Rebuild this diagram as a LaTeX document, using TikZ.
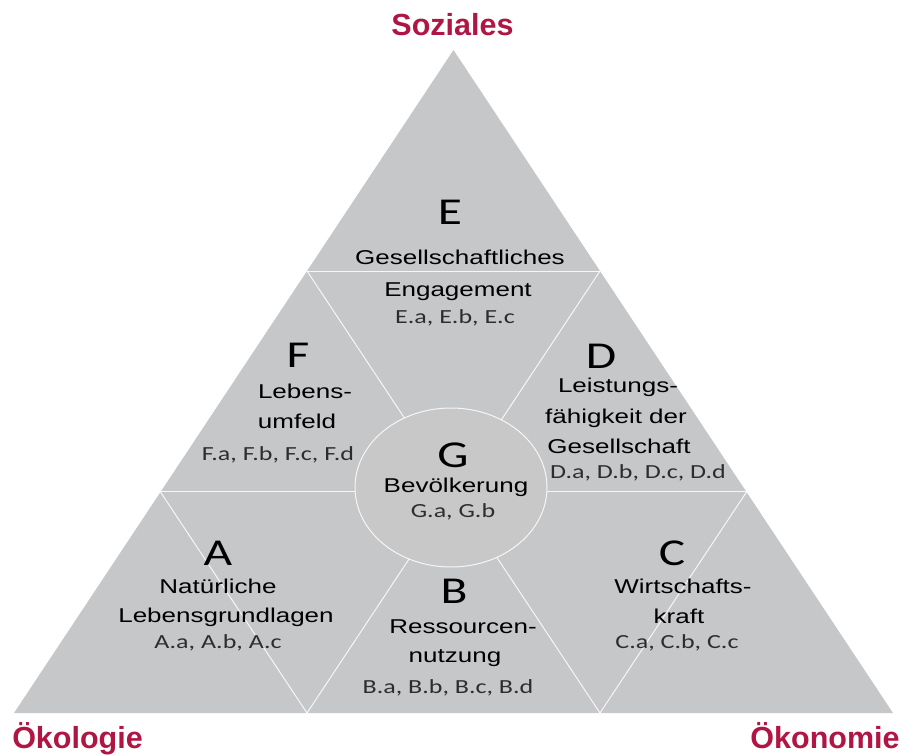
\documentclass[tikz,border=0pt]{standalone}
\usepackage{fontspec}
\usetikzlibrary{calc}
\newfontfamily\bodyf[FakeStretch=1.3]{Liberation Sans}
\newfontfamily\codef[FakeStretch=1.3]{Carlito}
\newfontfamily\headf{Liberation Sans}
\definecolor{headred}{RGB}{176,22,68}
\definecolor{trigray}{RGB}{198,199,201}
\definecolor{circgray}{RGB}{200,200,200}
\definecolor{codegray}{RGB}{45,45,45}
\tikzset{
  lbl/.style={anchor=base, inner sep=0pt, font=\bodyf\fontsize{20}{24}\selectfont, text=black},
  code/.style={anchor=base, inner sep=0pt, font=\codef\fontsize{20}{24}\selectfont, text=codegray},
  big/.style={anchor=base, inner sep=0pt, font=\codef\fontsize{38}{40}\selectfont, text=black},
  head/.style={anchor=base, inner sep=0pt, font=\headf\bfseries\fontsize{30.5}{34}\selectfont, text=headred},
  gridline/.style={draw=white, line width=1pt, draw opacity=0.85},
}
\begin{document}
\begin{tikzpicture}[x=1pt,y=-1pt]
\useasboundingbox (0,0) rectangle (903,755);
% triangle corners
\coordinate (A) at (453.5,50);
\coordinate (L) at (14,713);
\coordinate (R) at (893,713);
% trisection points
\coordinate (P1) at ($(A)!1/3!(L)$);
\coordinate (P2) at ($(A)!2/3!(L)$);
\coordinate (Q1) at ($(A)!1/3!(R)$);
\coordinate (Q2) at ($(A)!2/3!(R)$);
\coordinate (B1) at ($(L)!1/3!(R)$);
\coordinate (B2) at ($(L)!2/3!(R)$);
\fill[trigray] (A) -- (L) -- (R) -- cycle;
\draw[gridline] (P1) -- (Q1);
\draw[gridline] (P2) -- (Q2);
\draw[gridline] (P1) -- (B2);
\draw[gridline] (P2) -- (B1);
\draw[gridline] (Q1) -- (B1);
\draw[gridline] (Q2) -- (B2);
% central ellipse
\draw[draw=white, line width=1pt, draw opacity=0.85, fill=circgray] (451,487.5) ellipse [x radius=96, y radius=79.5];
% headings
\node[head] (soz) at (452.5,35) {Soziales};
\node[head] (oekol) at (77.5,748) {Ökologie};
\node[head] (oekon) at (825,748) {Ökonomie};
% E
\node[big] (Eletter) at (450,224) {E};
\node[lbl] (E1) at (460,264) {Gesellschaftliches};
\node[lbl] (E2) at (458,296) {Engagement};
\node[code] (Ec) at (455,323) {E.a, E.b, E.c};
% F
\node[big] (Fletter) at (298,367) {F};
\node[lbl] (F1) at (305,398) {Lebens-};
\node[lbl] (F2) at (297,428) {umfeld};
\node[code] (Fc) at (278,460) {F.a, F.b, F.c, F.d};
% D
\node[big] (Dletter) at (601,368) {D};
\node[lbl] (D1) at (618,392) {Leistungs-};
\node[lbl] (D2) at (616,423) {fähigkeit der};
\node[lbl] (D3) at (619,453) {Gesellschaft};
\node[code] (Dc) at (638,478) {D.a, D.b, D.c, D.d};
% G
\node[big] (Gletter) at (453,467) {G};
\node[lbl] (G1) at (456,492) {Bevölkerung};
\node[code] (Gc) at (453,517) {G.a, G.b};
% A
\node[big] (Aletter) at (218,565) {A};
\node[lbl] (A1) at (218,593) {Natürliche};
\node[lbl] (A2) at (226,622) {Lebensgrundlagen};
\node[code] (Ac) at (218,648) {A.a, A.b, A.c};
% B
\node[big] (Bletter) at (454,603) {B};
\node[lbl] (B1t) at (463,633) {Ressourcen-};
\node[lbl] (B2t) at (455,662) {nutzung};
\node[code] (Bc) at (448,693) {B.a, B.b, B.c, B.d};
% C
\node[big] (Cletter) at (672,565) {C};
\node[lbl] (C1) at (683,593) {Wirtschafts-};
\node[lbl] (C2) at (679,623) {kraft};
\node[code] (Cc) at (677,648) {C.a, C.b, C.c};
\end{tikzpicture}
\end{document}
